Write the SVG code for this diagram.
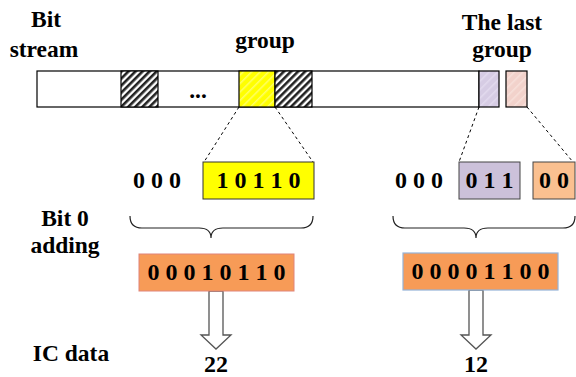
<svg xmlns="http://www.w3.org/2000/svg" width="576" height="377" viewBox="0 0 576 377">
<defs>
<pattern id="hatch" patternUnits="userSpaceOnUse" width="5" height="5" patternTransform="rotate(45)">
<rect width="5" height="5" fill="#fff"/>
<rect width="2.6" height="5" fill="#222"/>
</pattern>
<pattern id="yhatch" patternUnits="userSpaceOnUse" width="6" height="6" patternTransform="rotate(45)">
<rect width="6" height="6" fill="#FFFF00"/>
<rect width="1.5" height="6" fill="#FFFF66"/>
</pattern>
<pattern id="phatch" patternUnits="userSpaceOnUse" width="6" height="6" patternTransform="rotate(45)">
<rect width="6" height="6" fill="#D6CCE4"/>
<rect width="1.5" height="6" fill="#E2DAEE"/>
</pattern>
<pattern id="rhatch" patternUnits="userSpaceOnUse" width="6" height="6" patternTransform="rotate(45)">
<rect width="6" height="6" fill="#F2D2CB"/>
<rect width="1.5" height="6" fill="#F7E0DA"/>
</pattern>
</defs>
<style>
text{font-family:'Liberation Serif','Times New Roman',serif;font-weight:700;fill:#000}
.lbl{font-size:23.5px}
.dig{font-size:24px}
.bar{stroke:#000;stroke-width:1.2}
.dash{stroke:#000;stroke-width:1;stroke-dasharray:3,3;fill:none}
.brace{stroke:#222;stroke-width:1.2;fill:none}
.arrow{fill:#fff;stroke:#555;stroke-width:1.3}
</style>

<g id="labels">
<text class="lbl" x="46" y="27" text-anchor="middle">Bit</text>
<text class="lbl" x="44" y="57" text-anchor="middle">stream</text>
<text class="lbl" x="265" y="48" text-anchor="middle">group</text>
<text class="lbl" x="502" y="30" text-anchor="middle">The last</text>
<text class="lbl" x="502" y="57" text-anchor="middle">group</text>
<text class="lbl" x="65" y="226" text-anchor="middle">Bit 0</text>
<text class="lbl" x="65" y="253" text-anchor="middle">adding</text>
<text class="lbl" x="71" y="361" text-anchor="middle">IC data</text>
</g>

<g id="bitstream">
<rect class="bar" x="37" y="71" width="442" height="36" fill="#fff"/>
<rect class="bar" x="121" y="71" width="37" height="36" fill="url(#hatch)"/>
<rect class="bar" x="239" y="71" width="36" height="36" fill="url(#yhatch)"/>
<rect class="bar" x="275" y="71" width="37" height="36" fill="url(#hatch)"/>
<rect class="bar" x="479" y="71" width="20" height="36" fill="url(#phatch)" stroke="#333"/>
<rect class="bar" x="506" y="71" width="21" height="36" fill="url(#rhatch)" stroke="#333"/>
<text class="lbl" x="198" y="98" text-anchor="middle">...</text>
</g>

<g id="connectors">
<line class="dash" x1="239" y1="107" x2="204" y2="162"/>
<line class="dash" x1="275" y1="107" x2="313" y2="162"/>
<line class="dash" x1="479" y1="107" x2="459" y2="162"/>
<line class="dash" x1="527" y1="107" x2="573" y2="162"/>
<path class="brace" d="M130,216 Q130,228 142,228 L199,228 Q211,228 211,238 Q211,228 223,228 L301,228 Q313,228 313,216"/>
<path class="brace" d="M393,216 Q393,228 405,228 L464,228 Q476,228 476,238 Q476,228 488,228 L563,228 Q575,228 575,216"/>
<path class="arrow" d="M209,291 L223,291 L223,335 L231,335 L216,349 L201,335 L209,335 Z"/>
<path class="arrow" d="M469,290 L483,290 L483,335 L491,335 L476,349 L461,335 L469,335 Z"/>
</g>

<g id="group-left">
<text class="dig" x="157" y="188" text-anchor="middle">0 0 0</text>
<rect x="203" y="162" width="111" height="37" fill="#FFFF00" stroke="#333" stroke-width="1"/>
<text class="dig" x="258.5" y="188" text-anchor="middle">1 0 1 1 0</text>
</g>

<g id="group-right">
<text class="dig" x="419" y="188" text-anchor="middle">0 0 0</text>
<rect x="459" y="162" width="61" height="37" fill="#CCC1DA" stroke="#444" stroke-width="1"/>
<text class="dig" x="489.5" y="188" text-anchor="middle">0 1 1</text>
<rect x="533" y="162" width="42" height="37" fill="#FAC090" stroke="#444" stroke-width="1"/>
<text class="dig" x="554" y="188" text-anchor="middle">0 0</text>
</g>

<g id="padded-left">
<rect x="139" y="254" width="155" height="37" fill="#F79B57" stroke="#E0847A" stroke-width="1"/>
<text class="dig" x="216.5" y="280" text-anchor="middle">0 0 0 1 0 1 1 0</text>
</g>

<g id="padded-right">
<rect x="403" y="253" width="155" height="37" fill="#F79B57" stroke="#95B3D7" stroke-width="1.2"/>
<text class="dig" x="480.5" y="279" text-anchor="middle">0 0 0 0 1 1 0 0</text>
</g>

<g id="results">
<text class="dig" x="216" y="372" text-anchor="middle">22</text>
<text class="dig" x="476" y="372" text-anchor="middle">12</text>
</g>
</svg>
